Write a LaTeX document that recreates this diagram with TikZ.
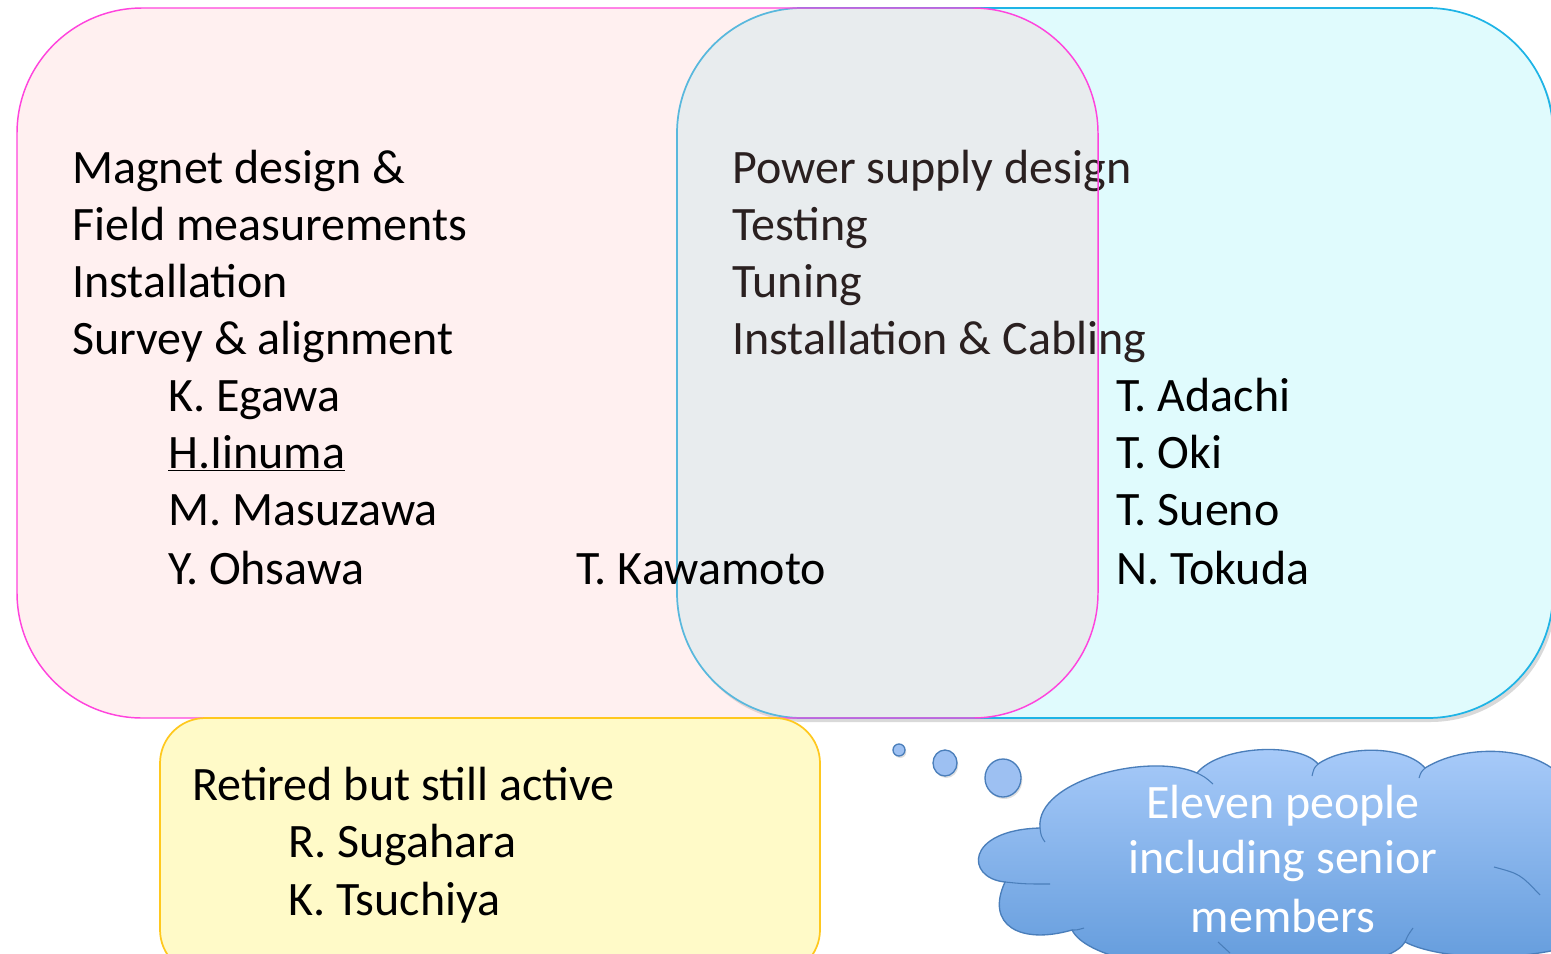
\documentclass[tikz,border=0pt]{standalone}
\usepackage{fontspec}
\setmainfont{Carlito}
\usetikzlibrary{shadows}
\definecolor{pinkline}{HTML}{FF44DD}
\definecolor{pinkfill}{HTML}{FFC4C4}
\definecolor{blueline}{HTML}{1EB4E6}
\definecolor{cyanfill}{HTML}{E0FBFD}
\definecolor{yelfill}{HTML}{FFFAC8}
\definecolor{yelline}{HTML}{FFC81E}
\definecolor{cloudtop}{HTML}{AACCFA}
\definecolor{cloudbot}{HTML}{5E98DA}
\definecolor{cloudline}{HTML}{4A7EBA}
\definecolor{bubfill}{HTML}{9DC0F2}
\definecolor{ovtext}{HTML}{2A2020}
\tikzset{
  txt/.style={anchor=base west,inner sep=0pt,font=\fontsize{36}{43}\selectfont,text=black},
  ctxt/.style={anchor=base,inner sep=0pt,font=\fontsize{36}{43}\selectfont,text=white},
  bluebox/.style={draw=blueline,line width=1.3pt,fill=cyanfill,rounded corners=94pt,
     drop shadow={shadow xshift=2pt,shadow yshift=-3pt,opacity=0.3}},
  pinkfillsty/.style={fill=pinkfill,fill opacity=0.26,rounded corners=94pt},
  pinkline/.style={draw=pinkline,line width=1.1pt,rounded corners=94pt},
  yelbox/.style={draw=yelline,line width=1.3pt,fill=yelfill,rounded corners=34pt},
  cloudsty/.style={draw=cloudline,line width=1pt,top color=cloudtop,bottom color=cloudbot},
  bubsty/.style={draw=cloudline,line width=1pt,fill=bubfill,
     drop shadow={shadow xshift=1pt,shadow yshift=-1.5pt,opacity=0.25}},
  inner/.style={draw=cloudline,line width=0.8pt}
}
\begin{document}
\begin{tikzpicture}[x=0.75pt,y=-0.75pt]
\useasboundingbox (0,0) rectangle (1551,953);
% blue box
\path[bluebox] (677,8) rectangle (1553,718);
% pink box fill
\path[pinkfillsty] (17,8) rectangle (1098,718);
% right texts
\node[txt,text=ovtext] (psd) at (732,183) {Power supply design};
\node[txt,text=ovtext] (tst) at (732,240) {Testing};
\node[txt,text=ovtext] (tun) at (732,297) {Tuning};
\node[txt,text=ovtext] (inc) at (732,354) {Installation \& Cabling};
\node[txt] (ada) at (1116,411) {T. Adachi};
\node[txt] (oki) at (1116,468) {T. Oki};
\node[txt] (sue) at (1116,525) {T. Sueno};
\node[txt] (tok) at (1116,584) {N. Tokuda};
% left texts
\node[txt] (mag) at (72,183) {Magnet design \&};
\node[txt] (fld) at (72,240) {Field measurements};
\node[txt] (ins) at (72,297) {Installation};
\node[txt] (sur) at (72,354) {Survey \& alignment};
\node[txt] (ega) at (168,411) {K. Egawa};
\node[txt] (iin) at (168,468) {\underline{H.Iinuma}};
\node[txt] (mas) at (168,525) {M. Masuzawa};
\node[txt] (ohs) at (168,584) {Y. Ohsawa};
\node[txt] (kaw) at (576,584) {T. Kawamoto};
% pink box border
\path[pinkline] (17,8) rectangle (1098,718);
% yellow box
\path[yelbox] (160,718) rectangle (820,975);
\node[txt] (ret) at (192,800) {Retired but still active};
\node[txt] (sug) at (288,857) {R. Sugahara};
\node[txt] (tsu) at (288,915) {K. Tsuchiya};
% thought bubbles
\path[bubsty] (899,750) ellipse [x radius=6,y radius=6];
\path[bubsty] (945,763) ellipse [x radius=12,y radius=13];
\path[bubsty] (1003,778) ellipse [x radius=18,y radius=19];
% cloud
\path[cloudsty] (1040,828)
  .. controls (1035,780) and (1150,752) .. (1197,773)
  .. controls (1220,745) and (1300,742) .. (1318,764)
  .. controls (1345,745) and (1405,745) .. (1425,768)
  .. controls (1470,740) and (1560,745) .. (1575,800)
  -- (1575,945)
  .. controls (1520,962) and (1440,960) .. (1405,942)
  .. controls (1380,985) and (1100,985) .. (1072,930)
  .. controls (1020,945) and (985,925) .. (1005,882)
  .. controls (965,878) and (965,830) .. (1040,828) -- cycle;
\draw[inner] (1040,828) .. controls (1041,836) .. (1045,842);
\draw[inner] (1197,773) .. controls (1205,777) .. (1213,784);
\draw[inner] (1318,764) .. controls (1314,768) .. (1312,776);
\draw[inner] (1425,768) .. controls (1421,772) .. (1419,778);
\draw[inner] (1005,882) .. controls (1025,884) .. (1050,884);
\draw[inner] (1072,930) .. controls (1077,930) .. (1084,928);
\draw[inner] (1405,942) .. controls (1408,935) .. (1413,928);
\draw[inner] (1218,942) .. controls (1224,947) .. (1230,953);
\draw[inner] (1494,867) .. controls (1520,874) .. (1540,895);
\node[ctxt] (c1) at (1283,818) {Eleven people};
\node[ctxt] (c2) at (1283,873) {including senior};
\node[ctxt] (c3) at (1283,932) {members};
\end{tikzpicture}
\end{document}
